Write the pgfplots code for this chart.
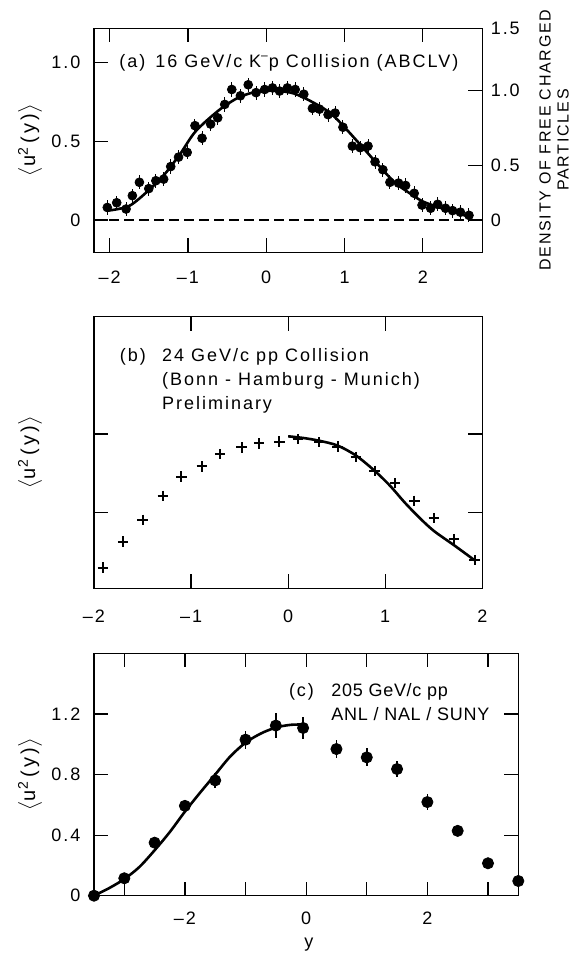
\documentclass[border=0pt]{standalone}
\usepackage{fontspec}
\setmainfont{Liberation Sans}[LetterSpace=11]
\usepackage{pgfplots}
\pgfplotsset{compat=1.18}

\pgfplotsset{
  panel/.style={
    scale only axis, anchor=south west, clip=false,
    axis line style={line width=0.6pt},
    every tick/.style={black, line width=0.6pt},
    major tick length=7pt,
    tick align=inside,
    tick label style={font=\fontsize{9}{10}\selectfont},
    yticklabel style={xshift=-3.3pt},
  },
  fit/.style={black, line width=1.3pt, no markers, smooth},
}

\begin{document}
\begin{tikzpicture}[font=\fontsize{9}{11}\selectfont]
\useasboundingbox (0pt,0pt) rectangle (288.5pt,477.5pt);

% ---- (a) ----
\begin{axis}[panel, at={(47pt,351.35pt)}, width=194.15pt, height=112pt,
  xmin=-2.2, xmax=2.76, ymin=-0.205, ymax=1.219,
  xtick={-2,-1,0,1,2}, xticklabels={--2,--1,0,1,2},
  xticklabel style={yshift=-5.8pt},
  ytick={0,0.5,1}, yticklabels={0,0.5,1.0}, ytick pos=left]
\addplot[black, line width=0.6pt, dash pattern=on 5pt off 2.5pt] coordinates {(-2.2,0) (2.76,0)};
\addplot[only marks, mark=*, mark size=2.2pt, black,
  error bars/.cd, y dir=both, y explicit, error mark=none,
  error bar style={line width=0.5pt}] coordinates {
  (-2.03,0.08) +- (0,0.045) (-1.91,0.11) +- (0,0.045) (-1.79,0.07) +- (0,0.045)
  (-1.71,0.155) +- (0,0.045) (-1.62,0.24) +- (0,0.045) (-1.50,0.20) +- (0,0.045)
  (-1.41,0.25) +- (0,0.045) (-1.31,0.26) +- (0,0.045) (-1.22,0.34) +- (0,0.045)
  (-1.12,0.40) +- (0,0.045) (-1.01,0.43) +- (0,0.045) (-0.91,0.60) +- (0,0.045)
  (-0.82,0.52) +- (0,0.045) (-0.71,0.61) +- (0,0.045) (-0.62,0.65) +- (0,0.045)
  (-0.53,0.735) +- (0,0.045) (-0.44,0.83) +- (0,0.045) (-0.33,0.79) +- (0,0.045)
  (-0.23,0.86) +- (0,0.045) (-0.13,0.81) +- (0,0.045) (-0.02,0.83) +- (0,0.045)
  (0.08,0.84) +- (0,0.045) (0.17,0.82) +- (0,0.045) (0.27,0.84) +- (0,0.045)
  (0.37,0.83) +- (0,0.045) (0.48,0.80) +- (0,0.045) (0.59,0.71) +- (0,0.045)
  (0.68,0.705) +- (0,0.045) (0.79,0.67) +- (0,0.045) (0.88,0.68) +- (0,0.045)
  (0.98,0.59) +- (0,0.045) (1.10,0.47) +- (0,0.045) (1.20,0.46) +- (0,0.045)
  (1.30,0.47) +- (0,0.045) (1.39,0.37) +- (0,0.045) (1.49,0.32) +- (0,0.045)
  (1.58,0.24) +- (0,0.045) (1.69,0.235) +- (0,0.045) (1.78,0.22) +- (0,0.045)
  (1.89,0.17) +- (0,0.045) (1.99,0.095) +- (0,0.045) (2.10,0.075) +- (0,0.045)
  (2.19,0.10) +- (0,0.045) (2.29,0.075) +- (0,0.045) (2.38,0.06) +- (0,0.045)
  (2.48,0.05) +- (0,0.045) (2.59,0.03) +- (0,0.045)
};
\addplot[fit] coordinates {
  (-2.02,0.06) (-1.75,0.09) (-1.5,0.19) (-1.3,0.29) (-1.1,0.42) (-0.9,0.565)
  (-0.6,0.70) (-0.35,0.78) (-0.12,0.816) (0.12,0.822) (0.35,0.805) (0.59,0.75)
  (0.82,0.68) (1.0,0.59) (1.2,0.48) (1.45,0.34) (1.65,0.235) (1.85,0.165)
  (2.0,0.118) (2.2,0.082) (2.4,0.05) (2.6,0.02)
};
\end{axis}
\begin{axis}[panel, at={(47pt,351.35pt)}, width=194.15pt, height=112pt,
  xmin=-2.2, xmax=2.76, ymin=-0.205, ymax=1.219,
  axis x line=none, axis y line*=right,
  ytick={0,0.345,0.822,1.219}, yticklabels={0,0.5,1.0,1.5},
  yticklabel style={anchor=west, xshift=4pt}]
\addplot[draw=none] coordinates {(0,0)};
\end{axis}

% ---- (b) ----
\begin{axis}[panel, at={(47pt,183.35pt)}, width=194.15pt, height=135.8pt,
  xmin=-2, xmax=2, ymin=0.017, ymax=1.747,
  xtick={-2,-1,0,1,2}, xticklabels={--2,--1,0,1,2},
  xticklabel style={yshift=-7.3pt},
  ytick={0.5,1}, yticklabels={}]
\addplot[only marks, mark=+, mark size=2.6pt, black, mark options={line width=1pt}] coordinates {
  (-1.91,0.149) (-1.70,0.315) (-1.50,0.453) (-1.29,0.606) (-1.10,0.728)
  (-0.89,0.794) (-0.70,0.872) (-0.48,0.915) (-0.30,0.94) (-0.09,0.951)
  (0.10,0.968) (0.32,0.947) (0.51,0.919) (0.70,0.855) (0.89,0.766)
  (1.10,0.687) (1.30,0.574) (1.50,0.464) (1.71,0.33) (1.92,0.196)
};
\addplot[fit] coordinates {
  (0,0.985) (0.15,0.975) (0.32,0.957) (0.51,0.926) (0.70,0.862) (0.89,0.766)
  (1.05,0.67) (1.20,0.564) (1.35,0.468) (1.50,0.383) (1.71,0.291) (1.92,0.196)
};
\end{axis}

% ---- (c) ----
\begin{axis}[panel, at={(47pt,29.65pt)}, width=212.15pt, height=121.2pt,
  xmin=-3.5, xmax=3.5, ymin=0, ymax=1.6,
  xtick={-3,-2,-1,0,1,2,3}, xticklabels={,--2,,0,,2,},
  xticklabel style={yshift=-4.8pt},
  ytick={0,0.4,0.8,1.2}, yticklabels={0,0.4,0.8,1.2}]
\addplot[only marks, mark=*, mark size=2.8pt, black,
  error bars/.cd, y dir=both, y explicit, error mark=none,
  error bar style={line width=0.8pt}] coordinates {
  (-3.5,0.0) +- (0,0.02) (-3.0,0.115) +- (0,0.02) (-2.5,0.35) +- (0,0.02)
  (-2.0,0.593) +- (0,0.03) (-1.5,0.761) +- (0,0.05) (-1.0,1.03) +- (0,0.06)
  (-0.5,1.123) +- (0,0.08) (-0.05,1.107) +- (0,0.07) (0.5,0.968) +- (0,0.06)
  (1.0,0.913) +- (0,0.06) (1.5,0.836) +- (0,0.05) (2.0,0.618) +- (0,0.05)
  (2.5,0.428) +- (0,0.02) (3.0,0.214) +- (0,0.02) (3.5,0.097) +- (0,0.02)
};
\addplot[fit] coordinates {
  (-3.5,0) (-3.25,0.05) (-3.0,0.11) (-2.75,0.19) (-2.5,0.30) (-2.25,0.42)
  (-2.0,0.555) (-1.75,0.68) (-1.5,0.80) (-1.25,0.92) (-1.0,1.01) (-0.75,1.07)
  (-0.5,1.11) (-0.25,1.128) (0,1.13)
};
\end{axis}

% ---- labels ----
\foreach \yc in {407.5pt,251.25pt,90.25pt}
  \node[rotate=90, inner sep=0pt, font=\fontsize{10}{12}\selectfont]
    at (15pt,\yc) {$\big\langle$u\textsuperscript{2}\,(\,y\,)$\big\rangle$};
\node[rotate=90, align=center, inner sep=0pt, font=\fontsize{8}{9}\selectfont]
  at (277pt,407.5pt) {DENSITY OF FREE CHARGED\\PARTICLES};
\node[anchor=west, inner sep=0pt] at (59.5pt,446.15pt)
  {(a)\, 16 GeV/c K\textsuperscript{--}p Collision (ABCLV)};
\node[anchor=west, inner sep=0pt] at (59.75pt,299.15pt) {(b)};
\node[anchor=west, inner sep=0pt] at (80.9pt,299.15pt) {24 GeV/c pp Collision};
\node[anchor=west, inner sep=0pt] at (80.9pt,287pt) {(Bonn - Hamburg - Munich)};
\node[anchor=west, inner sep=0pt] at (80.9pt,275pt) {Preliminary};
\node[anchor=west, inner sep=0pt] at (144.3pt,131.65pt) {(c)};
\node[anchor=west, inner sep=0pt] at (165.5pt,131.65pt) {\addfontfeatures{LetterSpace=4}205 GeV/c pp};
\node[anchor=west, inner sep=0pt] at (165.5pt,120.35pt) {\addfontfeatures{LetterSpace=4}ANL / NAL / SUNY};
\node[inner sep=0pt] at (154.4pt,5pt) {y};
\end{tikzpicture}
\end{document}
